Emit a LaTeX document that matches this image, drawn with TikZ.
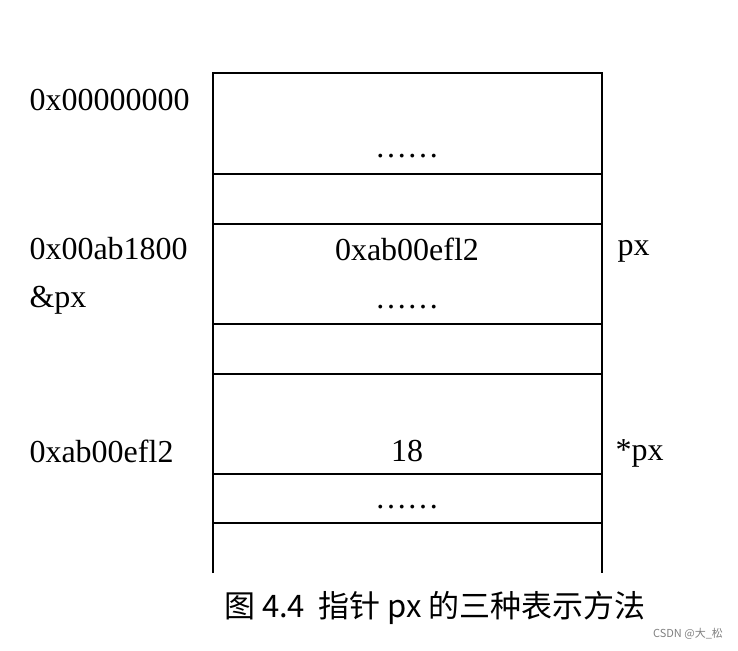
\documentclass[tikz,border=0pt]{standalone}
\usepackage{fontspec}
\setmainfont{Liberation Serif}
\newfontfamily\cjk{Noto Sans CJK SC}
\usetikzlibrary{positioning}
\begin{document}
\begin{tikzpicture}[x=1pt,y=-1pt,
    every node/.style={font=\fontsize{32}{34}\selectfont},
    addr/.style={anchor=west},
    cell/.style={}]
  \useasboundingbox (0,0) rectangle (738,650);
  % memory column
  \draw[line width=1.6pt] (213,573) -- (213,73) -- (602,73) -- (602,573);
  \foreach \y in {174,224,324,374,474,523}
    \draw[line width=1.6pt] (213,\y) -- (602,\y);
  % left addresses
  \node[addr] (a1) at (26,100) {0x00000000};
  \node[addr] (a2) at (26,249) {0x00ab1800};
  \node[addr] (a3) at (26,300) {\&px};
  \node[addr] (a4) at (26,451) {0xab00efl2};
  % cells
  \node[cell] (d1) at (407,156) {……};
  \node[cell] (v1) at (407,249) {0xab00efl2};
  \node[cell] (d2) at (407,307) {……};
  \node[cell] (v2) at (407,451) {18};
  \node[cell] (d3) at (407,507) {……};
  % right names
  \node[addr] (n1) at (614,251) {px};
  \node[addr] (n2) at (612,453) {*px};
  % caption
  \node[font=\fontsize{31}{34}\selectfont\cjk] (cap) at (435,608) {图 4.4 \ 指针 px 的三种表示方法};
  \node[font=\fontsize{11}{12}\selectfont\cjk,text=gray] (wm) at (688,634) {CSDN @大\_松};
\end{tikzpicture}
\end{document}
